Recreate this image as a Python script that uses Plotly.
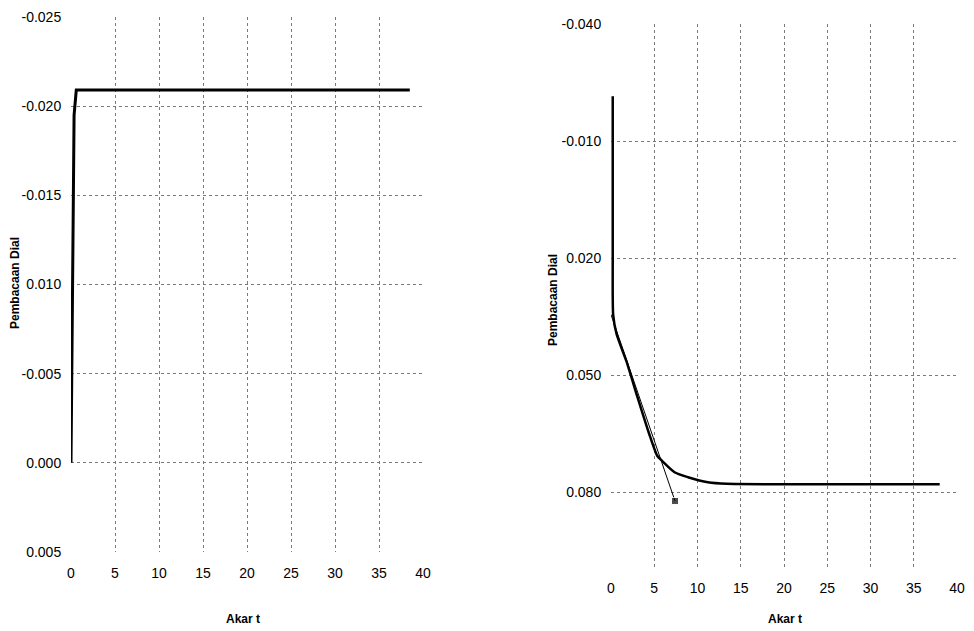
import plotly.graph_objects as go

# ---- data ----
left_x = [0.0, 0.1, 0.2, 0.35, 0.6, 38.5]
left_y = [0.000, -0.005, -0.012, -0.0195, -0.0209, -0.0209]

right_x = [0.2, 0.2, 0.25, 0.64, 1.77, 3.08, 4.4, 5.34, 5.9, 7.4, 8.9, 11.2, 13.4, 20, 30, 38]
right_y = [-0.0215, 0.020, 0.0345, 0.0395, 0.0464, 0.0558, 0.065, 0.0707, 0.072, 0.075, 0.0762, 0.0775, 0.0779, 0.0780, 0.0780, 0.0780]

tangent_x = [0.0, 7.4]
tangent_y = [0.0345, 0.0823]

left_ticks = [-0.025, -0.020, -0.015, -0.010, -0.005, 0.000, 0.005]
left_ticktext = ["-0.025", "-0.020", "-0.015", "0.010", "-0.005", "0.000", "0.005"]
right_ticks = [-0.040, -0.010, 0.020, 0.050, 0.080]
right_ticktext = ["-0.040", "-0.010", "0.020", "0.050", "0.080"]
x_ticks = [0, 5, 10, 15, 20, 25, 30, 35, 40]

# page has an 8px body margin, so the figure is offset by 8px
OFF = 8
W, H = 966, 623
font = "Liberation Sans, Arial, sans-serif"


def px(x):
    return (x - OFF) / W


def py(y):
    return (H - (y - OFF)) / H


fig = go.Figure()
fig.add_trace(go.Scatter(x=left_x, y=left_y, mode="lines", line=dict(color="black", width=3),
                         xaxis="x", yaxis="y", showlegend=False))
fig.add_trace(go.Scatter(x=tangent_x, y=tangent_y, mode="lines+markers",
                         line=dict(color="black", width=1),
                         marker=dict(symbol="square", size=[0, 7], color="black"),
                         xaxis="x2", yaxis="y2", showlegend=False))
fig.add_trace(go.Scatter(x=right_x, y=right_y, mode="lines", line=dict(color="black", width=2.5, shape="spline", smoothing=0.6),
                         xaxis="x2", yaxis="y2", showlegend=False))

grid = dict(showgrid=True, gridcolor="#7a7a7a", gridwidth=1, griddash="dot", zeroline=False,
            showline=False, ticks="outside", tickcolor="rgba(0,0,0,0)", ticklen=6,
            automargin=False, ticklabeloverflow="allow",
            tickfont=dict(family=font, size=14, color="black"))

fig.update_layout(
    width=W, height=H, margin=dict(l=0, r=0, t=0, b=0),
    paper_bgcolor="white", plot_bgcolor="white",
    xaxis=dict(domain=[px(71), px(423)], range=[0, 40], tickvals=x_ticks, anchor="y", **dict(grid, ticklen=8)),
    yaxis=dict(domain=[py(552), py(17)], range=[0.005, -0.025], tickvals=left_ticks,
               ticktext=left_ticktext, anchor="x", **grid),
    xaxis2=dict(domain=[px(611), px(957)], range=[0, 40], tickvals=x_ticks, anchor="y2", **dict(grid, ticklen=5)),
    yaxis2=dict(domain=[py(570), py(24)], range=[0.100, -0.040], tickvals=right_ticks,
                ticktext=right_ticktext, anchor="x2", **grid),
)

annots = [
    dict(text="<b>Pembacaan Dial</b>", x=px(15), y=py(283), textangle=-90),
    dict(text="<b>Akar t</b>", x=px(243), y=py(619), textangle=0),
    dict(text="<b>Pembacaan Dial</b>", x=px(553), y=py(300), textangle=-90),
    dict(text="<b>Akar t</b>", x=px(785), y=py(619), textangle=0),
]
for a in annots:
    fig.add_annotation(xref="paper", yref="paper", showarrow=False,
                       font=dict(family=font, size=12, color="black"),
                       xanchor="center", yanchor="middle", **a)

fig.write_html("out.html")
